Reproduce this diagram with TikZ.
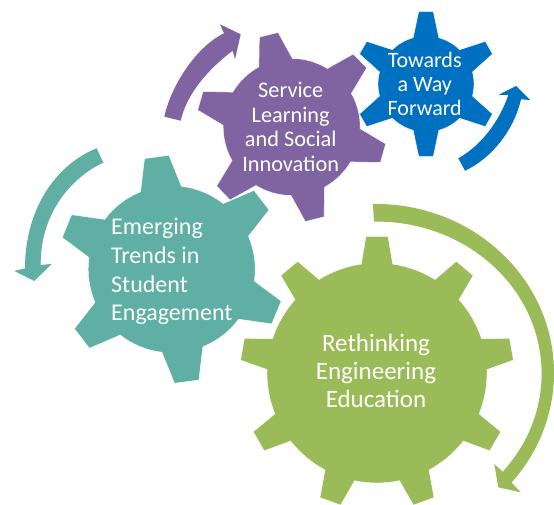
\documentclass[tikz,border=0pt]{standalone}
\usepackage{fontspec}
\setmainfont{Carlito}
\definecolor{cgreen}{HTML}{9BBB59}
\definecolor{cteal}{HTML}{5FAFA5}
\definecolor{cpurple}{HTML}{8064A2}
\definecolor{cblue}{HTML}{0070C0}
% cx, cy(px from top), r, R, teeth, first angle, base half-angle, tip half-angle, colour
\newcommand{\mygear}[9]{%
  \pgfmathsetmacro{\stp}{360/#5}%
  \pgfmathtruncatemacro{\last}{#5-1}%
  \begin{scope}[shift={(#1,{504-#2})}]
    \fill[#9,draw=white,line width=0.4pt] ({#6-#7}:#3)
      \foreach \i in {0,...,\last}{
        \pgfextra{\pgfmathsetmacro{\a}{#6+\i*\stp}}
        -- ({\a-#8}:#4) -- ({\a+#8}:#4) -- ({\a+#7}:#3)
        arc[start angle={\a+#7},end angle={\a+\stp-#7},radius=#3]
      } -- cycle;
  \end{scope}}
\tikzset{
  lbl/.style={text=white,inner sep=0pt}
}
\begin{document}
\begin{tikzpicture}[x=1pt,y=1pt]
\useasboundingbox (0,0) rectangle (554,504);
\fill[white] (0,0) rectangle (554,504);
\mygear{377}{373}{110}{137}{9}{10}{8.2}{4.6}{cgreen}
\mygear{171.7}{269.3}{83.5}{114}{6}{37.6}{14.3}{6.2}{cteal}
\mygear{291.7}{127}{68.5}{95.5}{6}{44}{14.6}{5.8}{cpurple}
\mygear{426}{84}{48}{73}{6}{30}{15.5}{5.7}{cblue}
% green arrow
\fill[cgreen] ([shift={(376,131)}]91:178 and 169)
  arc[start angle=91,end angle=-40.4,x radius=178,y radius=169]
  -- (520.7,11.7) -- (498.3,16.7) -- (494.3,40) -- (502.7,32.3)
  arc[start angle=-40.2,end angle=91,x radius=164.7,y radius=152] -- cycle;
% purple arrow
\fill[cpurple] (164.3,387.3) .. controls (172,422) and (199,459) .. (224,470.7)
  -- (220,479.7) -- (240.7,469.7) -- (235,444.7) -- (232.7,453.3)
  .. controls (211,437) and (187,412) .. (180.7,383.3) -- cycle;
% blue arrow
\fill[cblue] (458.3,345.7) .. controls (482,359) and (500,384) .. (508.3,409)
  -- (498.3,409) -- (516,418) -- (530,404) -- (521,404.7)
  .. controls (514,374) and (492,346) .. (465,333.3) -- cycle;
% teal arrow
\fill[cteal] (96.7,355.7) .. controls (55,339) and (25,294) .. (25,235.7)
  -- (14.3,233) -- (34.3,223) -- (51.7,240) -- (40.7,239)
  .. controls (40,289) and (70,326) .. (103.3,341.3) -- cycle;
\node[lbl,align=center,font=\fontsize{25}{27.7}\selectfont] (green) at (376,133) {Rethinking\\Engineering\\Education};
\node[lbl,align=left,font=\fontsize{24}{28.7}\selectfont,anchor=west] (teal) at (111,232.5) {Emerging\\Trends in\\Student\\Engagement};
\node[lbl,align=center,font=\fontsize{22.3}{24.5}\selectfont] (purple) at (290.7,377) {Service\\Learning\\and Social\\Innovation};
\node[lbl,align=center,font=\fontsize{22}{24}\selectfont] (blue) at (424.7,420) {Towards\\a Way\\Forward};
\end{tikzpicture}
\end{document}
